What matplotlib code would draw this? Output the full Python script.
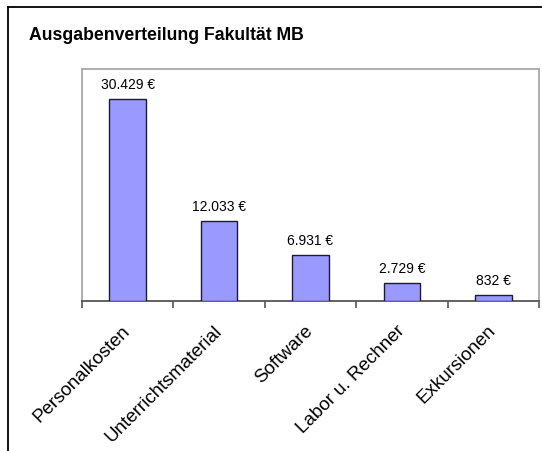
import matplotlib
matplotlib.use("Agg")
import matplotlib.pyplot as plt
from matplotlib.lines import Line2D
import numpy as np

categories = ["Personalkosten", "Unterrichtsmaterial", "Software", "Labor u. Rechner", "Exkursionen"]
values = [30429, 12033, 6931, 2729, 832]
value_labels = ["30.429 €", "12.033 €", "6.931 €", "2.729 €", "832 €"]
title = "Ausgabenverteilung Fakultät MB"

plt.rcParams['font.family'] = ['Liberation Sans', 'DejaVu Sans']

W, H = 542, 452
fig = plt.figure(figsize=(W / 100, H / 100), dpi=100)

# outer frame (left and top; right and bottom are cut off)
fig.add_artist(Line2D([8 / W, 8 / W], [0, 1 - 8 / H], color='black', lw=1.3, transform=fig.transFigure))
fig.add_artist(Line2D([8 / W, 1], [1 - 8 / H, 1 - 8 / H], color='black', lw=1.3, transform=fig.transFigure))

ax = fig.add_axes([82 / W, 1 - 302 / H, 457 / W, 232 / H])
x = np.arange(len(categories))
ax.bar(x, values, width=0.4, color='#9999FF', edgecolor='#1a1a33', linewidth=1.0, zorder=3)
ax.set_xlim(-0.5, len(categories) - 0.5)
ax.set_ylim(0, 35000)

for xi, v, lab in zip(x, values, value_labels):
    ax.annotate(lab, (xi, v), xytext=(0, 6), textcoords='offset points',
                ha='center', va='bottom', fontsize=10, color='black')

for side in ['left', 'top', 'right']:
    ax.spines[side].set_color('#A8A8A8')
    ax.spines[side].set_linewidth(1.3)
ax.spines['bottom'].set_color('#555555')
ax.spines['bottom'].set_linewidth(1.3)

ax.set_yticks([])
ax.set_xticks(x)
ax.set_xticklabels(categories, rotation=45, ha='right', va='center', rotation_mode='anchor', fontsize=13.5)
ax.tick_params(axis='x', which='major', length=0, pad=19)
ax.set_xticks(np.arange(-0.5, len(categories)), minor=True)
ax.tick_params(axis='x', which='minor', length=5, width=1.2, color='#555555', direction='out')

fig.text(29 / W, 1 - 40 / H, title, fontsize=12.7, fontweight='bold', ha='left', va='baseline')

fig.savefig("out.png", dpi=100)
